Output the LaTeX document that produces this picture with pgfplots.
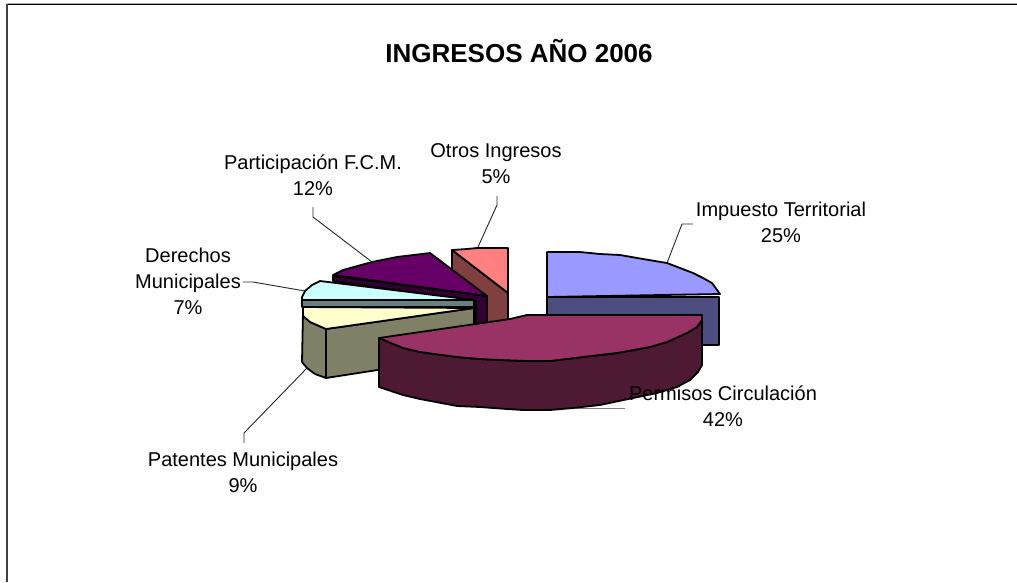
\documentclass[border=0pt]{standalone}
\usepackage{pgfplots}
\pgfplotsset{compat=1.18}
\usepackage{fontspec}
\setmainfont{Liberation Sans}
\definecolor{blueT}{HTML}{9999FF}
\definecolor{blueS}{HTML}{4D4D80}
\definecolor{marT}{HTML}{993366}
\definecolor{marS}{HTML}{4D1933}
\definecolor{yelT}{HTML}{FFFFCC}
\definecolor{yelS}{HTML}{808066}
\definecolor{cyaT}{HTML}{CCFFFF}
\definecolor{cyaS}{HTML}{668080}
\definecolor{purT}{HTML}{660066}
\definecolor{purS}{HTML}{330033}
\definecolor{salT}{HTML}{FF8080}
\definecolor{salS}{HTML}{804040}
\pgfplotsset{
  face/.style={draw=black,line width=1.8pt,line join=round,mark=none},
  leader/.style={draw=black!85,line width=0.9pt,mark=none},
}
\tikzset{lbl/.style={font=\fontsize{20}{26}\selectfont,align=center,text=black,inner sep=0pt}}
\begin{document}
\begin{tikzpicture}
\begin{axis}[
  width=1017pt, height=582pt, scale only axis,
  xmin=0, xmax=1017, ymin=0, ymax=582, y dir=reverse,
  hide axis,
]
\addplot[draw=none,fill=white] coordinates {(0,0)(1017,0)(1017,582)(0,582)} --cycle;
% frame, only top and left show
\addplot[draw=black!35,line width=1pt,mark=none] coordinates {(7,3.4)(1017,3.4)};
\addplot[draw=black,line width=1.4pt,mark=none] coordinates {(7,4.6)(1017,4.6)};
\addplot[draw=black!75,line width=2pt,mark=none] coordinates {(7,4)(7,582)};
% leaders
\addplot[leader] coordinates {(667,263)(682,224)(693,224)};
\addplot[leader] coordinates {(372,262)(313,217)(313,207)};
\addplot[leader] coordinates {(305,291)(253,282)(243,282)};
\addplot[leader] coordinates {(307,368)(244,433)(244,443)};
\addplot[leader] coordinates {(478,247)(497,205)(497,196)};
\addplot[draw=black!50,line width=0.8pt,mark=none] coordinates {(575,408)(625,408)};
% Impuesto Territorial
\addplot[face,fill=blueS] coordinates {(547,297)(719,297)(719,345)(547,345)} --cycle;
\addplot[face,fill=blueT] coordinates {(547,252)(580,252)(600,254)(620,255)(643,259)(667,263)(680,268)(693,273)(703,278)(712,283)(720,294)(547,297)} --cycle;
% Otros Ingresos
\addplot[face,fill=salS] coordinates {(452,250)(508,293)(508,325)(452,325)} --cycle;
\addplot[face,fill=salT] coordinates {(452,250)(467,249)(477,248)(508,248)(508,293)} --cycle;
% Participacion
\addplot[face,fill=purS] coordinates {(333,276)(487,296)(487,322)(476,325)(476,301)(333,281)} --cycle;
\addplot[face,fill=purT] coordinates {(333,275)(343,270)(372,262)(397,257)(430,253)(487,296)} --cycle;
% Derechos
\addplot[face,fill=cyaS] coordinates {(302,300)(474,300)(474,307)(302,307)} --cycle;
\addplot[face,fill=cyaT] coordinates {(320,281)(312,285)(305,291)(302,297)(302,300)(474,300)} --cycle;
% Patentes
\addplot[face,fill=yelS] coordinates {(303,312)(310,322)(326,329)(474,308)(474,355)(326,378)(315,374)(307,368)(302,362)} --cycle;
\addplot[face,fill=yelT] coordinates {(303,307)(474,308)(326,329)(310,322)(303,316)} --cycle;
\addplot[face] coordinates {(326,329)(326,378)};
% Permisos
\addplot[face,fill=marS] coordinates {(379,338)(403,348)(420,352)(457,357)(480,359)(500,360)(527,361)(550,361)(583,357)(617,353)(650,347)(667,342)(687,333)(697,327)(702,320)(702,315)(702,365)(698,372)(690,380)(677,387)(657,393)(633,398)(600,405)(573,408)(550,410)(523,410)(507,409)(480,407)(457,406)(420,399)(403,395)(379,387)} --cycle;
\addplot[face,fill=marT] coordinates {(379,338)(510,319)(527,315)(702,315)(702,320)(697,327)(687,333)(667,342)(650,347)(617,353)(583,357)(550,361)(527,361)(500,360)(480,359)(457,357)(420,352)(403,348)} --cycle;
% text
\node[lbl,font=\fontsize{26}{30}\selectfont\bfseries] at (axis cs:519,51) {INGRESOS AÑO 2006};
\node[lbl] at (axis cs:781,222) {Impuesto Territorial\\25\%};
\node[lbl] at (axis cs:723,406) {Permisos Circulación\\42\%};
\node[lbl] at (axis cs:313,175) {Participación F.C.M.\\12\%};
\node[lbl] at (axis cs:496,164) {Otros Ingresos\\5\%};
\node[lbl] at (axis cs:188,281) {Derechos\\Municipales\\7\%};
\node[lbl] at (axis cs:243,472) {Patentes Municipales\\9\%};
\end{axis}
\end{tikzpicture}
\end{document}
